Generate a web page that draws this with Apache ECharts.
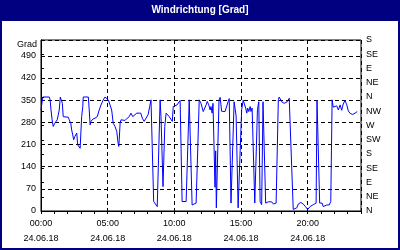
<!DOCTYPE html>
<html>
<head>
<meta charset="utf-8">
<script src="https://cdn.jsdelivr.net/npm/echarts@6/dist/echarts.min.js"></script>
<style>
html,body{margin:0;padding:0;background:#fff;}
#c{width:400px;height:250px;}
</style>
</head>
<body>
<div id="c"></div>
<script>
// Data (minutes since 00:00 on 24.06.18, wind direction in degrees)
var chartTitle = 'Windrichtung [Grad]';
var yName = 'Grad';
var dateLabel = '24.06.18';
var directionLabels = ['N','NE','E','SE','S','SW','W','NW','N','NE','E','SE','S'];
var leftTicks = [0,70,140,210,280,350,420,490];

var times = [0,8,37,41,45,50,55,62,68,73,80,82,87,95,96,100,109,123,127,134,138,143,147,152,156,161,165,171,176,179,183,188,190,213,217,221,225,233,243,253,262,270,280,288,296,303,311,318,325,333,341,347,350,352,356,360,
368,378,388,397,405,413,422,431,440,449,456,464,473,482,489,495,507,514,523,536,540,549,557,563,570,577,585,591,595,603,612,620,626,635,644,653,667,680,689,698,712,720,
724,730,737,743,748,755,761,765,770,774,783,786,789,792,801,806,810,813,820,828,836,842,847,855,860,869,873,878,887,891,896,903,910,915,921,926,930,935,941,945,950,955,962,968,974,980,986,993,999,1004,1011,1016,1023,1031,1038,1046,1053,1058,1068,1072,1080,
1083,1094,1098,1103,1108,1117,1125,1135,1143,1151,1158,1169,1180,1191,1200,1211,1225,1238,1242,1247,1254,1259,1265,1270,1278,1286,1297,1304,1310,1315,1323,1331,1338,1346,1353,1360,1368,1376,1383,1391,1403,1413,1423];

var values = [319,360,360,351,319,288,267,277,283,288,293,319,360,360,340,298,298,296,288,277,256,240,225,235,230,246,209,204,198,240,298,330,360,360,319,272,283,290,293,298,319,335,351,360,360,351,346,319,277,267,251,214,204,225,277,288,
283,286,293,298,309,298,304,309,314,309,293,283,288,304,330,351,30,25,14,351,298,77,267,309,314,298,293,283,330,335,335,340,349,30,25,30,351,19,19,25,351,340,
340,314,319,335,346,335,319,330,309,340,75,190,10,10,350,359,355,315,312,314,318,345,355,25,25,345,350,300,10,5,5,320,350,345,325,309,325,314,330,314,325,330,25,25,320,345,30,20,345,350,25,19,29,24,29,22,24,25,351,360,356,
345,340,338,338,345,356,360,5,5,10,22,27,22,13,5,14,20,25,350,350,25,19,25,14,19,19,19,30,351,328,327,332,319,335,318,338,349,335,316,308,305,309,314];

var seriesData = times.map(function (t, i) { return [t, values[i]]; });

function pad(n) { return (n < 10 ? '0' : '') + n; }
function timeLabel(v) {
  var h = Math.floor(v / 60), m = v % 60;
  return pad(h) + ':' + pad(m) + '\n' + dateLabel;
}

var FONT = 'Liberation Sans, Arial, sans-serif';
var dashed = { color: '#000', width: 1, type: [4, 3] };

var chart = echarts.init(document.getElementById('c'), null, { renderer: 'canvas' });
chart.setOption({
  animation: false,
  backgroundColor: '#ffffff',
  textStyle: { fontFamily: FONT },
  grid: { left: 41, right: 39, top: 40, bottom: 39, show: true, borderColor: '#000', borderWidth: 1, backgroundColor: 'transparent', containLabel: false },
  xAxis: [{
    type: 'value', min: 0, max: 1440, interval: 300, position: 'bottom',
    axisLine: { show: true, lineStyle: { color: '#000', width: 1 } },
    axisTick: { show: false },
    axisLabel: { show: true, showMaxLabel: false, margin: 5, color: '#000', fontSize: 9, fontFamily: FONT, lineHeight: 15, formatter: timeLabel },
    splitLine: { show: true, lineStyle: dashed }
  }, {
    type: 'value', min: 0, max: 1440, interval: 60, position: 'bottom',
    axisLine: { show: false },
    axisTick: { show: true, length: 3, inside: false, lineStyle: { color: '#000', width: 1 } },
    axisLabel: { show: false },
    splitLine: { show: false }
  }],
  yAxis: [{
    type: 'value', min: 0, max: 540, interval: 70, position: 'left',
    axisLine: { show: true, lineStyle: { color: '#000', width: 1 } },
    axisTick: { show: false },
    axisLabel: { show: true, showMaxLabel: false, margin: 5, color: '#000', fontSize: 9, fontFamily: FONT,
      formatter: function (v) { return leftTicks.indexOf(v) >= 0 ? String(v) : ''; } },
    splitLine: { show: true, lineStyle: dashed }
  }, {
    type: 'value', min: 0, max: 540, interval: 45, position: 'right',
    axisLine: { show: true, lineStyle: { color: '#000', width: 1 } },
    axisTick: { show: true, length: 3, inside: false, lineStyle: { color: '#000', width: 1 } },
    axisLabel: { show: true, margin: 5, color: '#000', fontSize: 9, fontFamily: FONT,
      formatter: function (v) { return directionLabels[Math.round(v / 45)] || ''; } },
    splitLine: { show: false }
  }],
  series: [{
    type: 'line', xAxisIndex: 0, yAxisIndex: 0,
    data: seriesData, showSymbol: false, symbol: 'none',
    lineStyle: { color: '#0000ff', width: 1 },
    silent: true
  }],
  graphic: [
    { type: 'rect', left: 0, top: 0, shape: { width: 400, height: 21 }, style: { fill: '#000080' }, silent: true },
    { type: 'text', x: 200, y: 10, style: { text: chartTitle, fill: '#ffffff', font: 'bold 10px ' + FONT, textAlign: 'center', textVerticalAlign: 'middle' }, silent: true },
    { type: 'rect', left: 0, top: 0, shape: { width: 2, height: 250 }, style: { fill: '#000080' }, silent: true },
    { type: 'rect', left: 398, top: 0, shape: { width: 2, height: 250 }, style: { fill: '#000080' }, silent: true },
    { type: 'rect', left: 0, top: 248, shape: { width: 400, height: 2 }, style: { fill: '#000080' }, silent: true },
    { type: 'text', x: 37, y: 45, style: { text: yName, fill: '#000', font: '9px ' + FONT, textAlign: 'right', textVerticalAlign: 'middle' }, silent: true }
  ]
});
</script>
</body>
</html>
